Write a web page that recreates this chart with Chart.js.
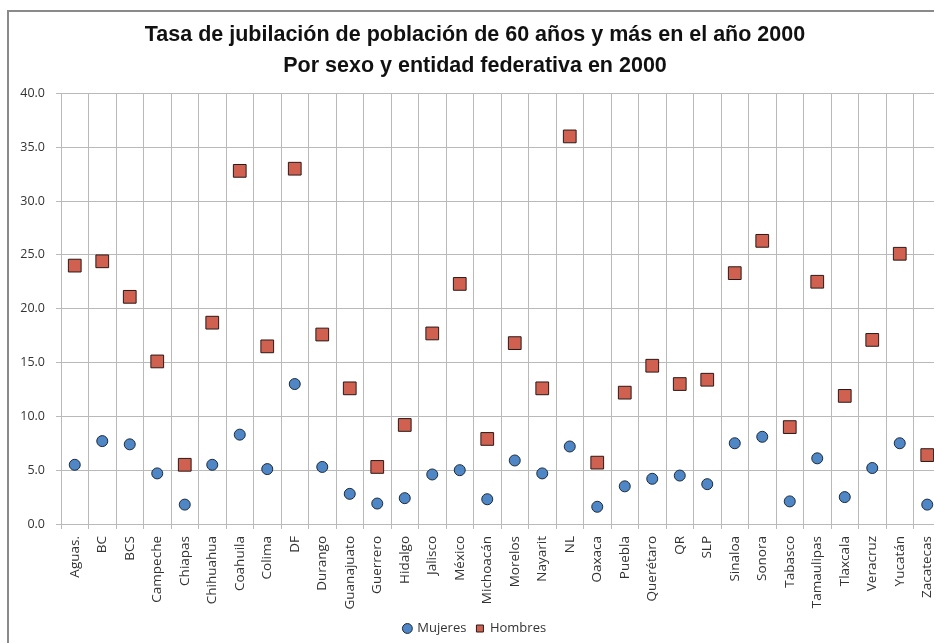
<!DOCTYPE html>
<html>
<head>
<meta charset="utf-8">
<script src="https://cdn.jsdelivr.net/npm/chart.js@4/dist/chart.umd.min.js"></script>
<style>
  html, body { margin: 0; padding: 0; background: #fff; overflow: hidden; width: 934px; height: 643px; }
  #frame { position: absolute; left: 7px; top: 10px; width: 960px; height: 660px;
           border-left: 2px solid #8a8a8a; border-top: 2px solid #8a8a8a; background: #fff; }
  #box { position: absolute; left: 0; top: 0; width: 945px; height: 633px; }
</style>
</head>
<body>
<div id="frame"><div id="box"><canvas id="c"></canvas></div></div>
<script>
// entidades federativas
const estados = ['Aguas.','BC','BCS','Campeche','Chiapas','Chihuahua','Coahuila','Colima','DF','Durango',
  'Guanajuato','Guerrero','Hidalgo','Jalisco','México','Michoacán','Morelos','Nayarit','NL','Oaxaca',
  'Puebla','Querétaro','QR','SLP','Sinaloa','Sonora','Tabasco','Tamaulipas','Tlaxcala','Veracruz',
  'Yucatán','Zacatecas'];

const mujeres = [5.5, 7.7, 7.4, 4.7, 1.8, 5.5, 8.3, 5.1, 13.0, 5.3,
  2.8, 1.9, 2.4, 4.6, 5.0, 2.3, 5.9, 4.7, 7.2, 1.6,
  3.5, 4.2, 4.5, 3.7, 7.5, 8.1, 2.1, 6.1, 2.5, 5.2,
  7.5, 1.8];

const hombres = [24.0, 24.4, 21.1, 15.1, 5.5, 18.7, 32.8, 16.5, 33.0, 17.6,
  12.6, 5.3, 9.2, 17.7, 22.3, 7.9, 16.8, 12.6, 36.0, 5.7,
  12.2, 14.7, 13.0, 13.4, 23.3, 26.3, 9.0, 22.5, 11.9, 17.1,
  25.1, 6.4];

const titulo = ['Tasa de jubilación de población de 60 años y más en el año 2000',
  'Por sexo y entidad federativa en 2000'];

const GRID = '#b9b9b9';
const TXT = '#333';
const SANS = "'Open Sans', sans-serif";

new Chart(document.getElementById('c'), {
  type: 'line',
  data: {
    labels: estados,
    datasets: [
      { label: 'Mujeres', data: mujeres, showLine: false, pointStyle: 'circle',
        pointRadius: 5.5, pointHoverRadius: 5.5, pointBackgroundColor: '#4f86c6',
        pointBorderColor: '#1c2a3a', pointBorderWidth: 1, borderColor: '#1c2a3a', backgroundColor: '#4f86c6' },
      { label: 'Hombres', data: hombres, showLine: false, pointStyle: 'rect',
        pointRadius: 9, pointHoverRadius: 9, pointBackgroundColor: '#d0604f',
        pointBorderColor: '#2a1a18', pointBorderWidth: 1, borderColor: '#2a1a18', backgroundColor: '#d0604f' },
    ]
  },
  options: {
    responsive: true, maintainAspectRatio: false, animation: false,
    layout: { padding: { left: 0, right: 13, top: 0, bottom: 0 } },
    plugins: {
      title: { display: true, text: titulo, color: '#111',
        font: { family: "'Liberation Sans', sans-serif", size: 21.5, weight: 'bold', lineHeight: 1.45 },
        padding: { top: 7, bottom: 12 } },
      legend: { position: 'bottom',
        labels: { usePointStyle: true, boxWidth: 7, boxHeight: 7, padding: 10, color: TXT,
          font: { family: SANS, size: 13 } } },
      tooltip: { enabled: false }
    },
    scales: {
      x: {
        offset: true,
        grid: { offset: true, color: GRID, lineWidth: 1, tickLength: 5, tickColor: GRID },
        border: { color: GRID },
        ticks: { color: TXT, maxRotation: 90, minRotation: 90, autoSkip: false, padding: 7,
          font: { family: SANS, size: 13.5 } },
        afterFit: s => { s.height = 88; }
      },
      y: {
        min: 0, max: 40,
        grid: { color: GRID, lineWidth: 1, tickLength: 5, tickColor: GRID },
        border: { color: GRID },
        ticks: { stepSize: 5, color: TXT, padding: 11, callback: v => v.toFixed(1),
          font: { family: SANS, size: 12.5 } },
        afterFit: s => { s.width = 52; }
      }
    }
  }
});
</script>
</body>
</html>
